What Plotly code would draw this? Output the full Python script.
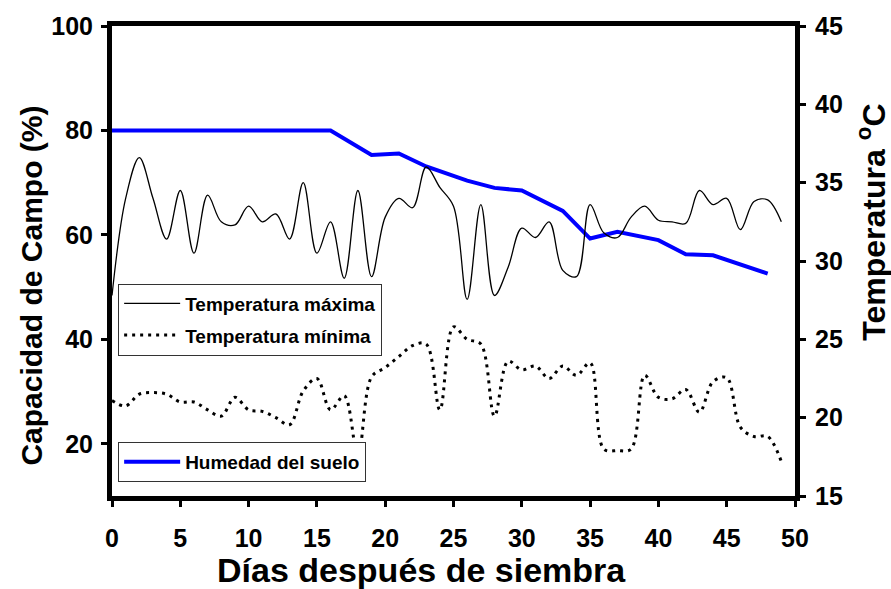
import plotly.graph_objects as go

# Soil moisture (% of field capacity)
hum_dias = [0, 16, 19, 21, 23, 26, 28, 30, 33, 35, 37, 40, 42, 44, 48]
humedad = [80, 80, 75.3, 75.6, 73.1, 70.4, 69.0, 68.5, 64.6, 59.3, 60.6, 59.0, 56.3, 56.1, 52.6]

# Daily temperatures (°C)
dias = list(range(0, 50))
t_max = [27.8, 34.0, 36.6, 34.0, 31.4, 34.5, 30.5, 34.2, 32.5, 32.3,
         33.5, 32.5, 33.0, 31.4, 35.0, 30.5, 32.5, 28.9, 34.5, 29.0,
         32.8, 34.0, 33.4, 36.0, 34.7, 33.5, 27.55, 33.6, 27.8, 29.6,
         32.1, 31.5, 32.5, 29.4, 29.0, 33.6, 31.8, 31.5, 32.8, 33.5,
         32.6, 32.5, 32.4, 34.5, 33.6, 34.0, 32.0, 33.8, 33.9, 32.5]
t_min = [21.1, 20.75, 21.5, 21.6, 21.5, 21.0, 21.0, 20.5, 20.1, 21.3,
         20.5, 20.4, 20.0, 19.55, 21.7, 22.5, 20.5, 21.4, 17.6, 22.6,
         23.2, 23.9, 24.6, 24.7, 20.5, 25.8, 25.0, 24.7, 20.1, 23.6,
         23.05, 23.3, 22.5, 23.3, 22.7, 23.5, 18.0, 17.9, 18.0, 22.7,
         21.3, 21.2, 21.8, 20.35, 22.3, 22.55, 19.4, 18.8, 18.8, 17.2]

FONT = "Liberation Sans"

fig = go.Figure()

fig.add_trace(go.Scatter(
    x=dias, y=t_max, yaxis="y2", mode="lines",
    line=dict(color="black", width=1.3, shape="spline", smoothing=1.0),
    name="Temperatura máxima", legend="legend", legendgroup="a",
))
fig.add_trace(go.Scatter(
    x=dias, y=t_min, yaxis="y2", mode="lines",
    line=dict(color="black", width=3, shape="spline", smoothing=1.0, dash="3px,5px"),
    name="Temperatura mínima", legend="legend", legendgroup="b",
))
fig.add_trace(go.Scatter(
    x=hum_dias, y=humedad, mode="lines",
    line=dict(color="#0000FF", width=4),
    name="Humedad del suelo", legend="legend2",
))

tickfont = dict(family=FONT, size=25, color="black", weight="bold")
legfont = dict(family=FONT, size=19, color="black", weight="bold")


def title_font(size):
    return dict(family=FONT, size=size, color="black", weight="bold")


axis_common = dict(
    showline=True, linewidth=5, linecolor="black",
    ticks="outside", ticklen=6, tickwidth=3, tickcolor="black",
    showgrid=False, zeroline=False, tickfont=tickfont,
)

fig.update_layout(
    width=891, height=589,
    margin=dict(l=112, r=96, t=18, b=93),
    paper_bgcolor="white", plot_bgcolor="white",
    showlegend=True,
    xaxis=dict(
        range=[0, 50], tickvals=[0, 5, 10, 15, 20, 25, 30, 35, 40, 45, 50],
        mirror=True, ticklabelstandoff=10, **axis_common,
    ),
    yaxis=dict(
        range=[10, 100], tickvals=[20, 40, 60, 80, 100],
        ticklabelstandoff=3, **axis_common,
    ),
    yaxis2=dict(
        range=[15, 45], tickvals=[15, 20, 25, 30, 35, 40, 45],
        overlaying="y", side="right", ticklabelstandoff=4,
        **axis_common,
    ),
    legend=dict(
        x=0.009, y=0.452, xanchor="left", yanchor="top",
        bgcolor="white", bordercolor="#333", borderwidth=1,
        font=legfont, traceorder="grouped", tracegroupgap=4, itemwidth=56,
    ),
    legend2=dict(
        x=0.009, y=0.115, xanchor="left", yanchor="top",
        bgcolor="white", bordercolor="#333", borderwidth=1,
        font=legfont, itemwidth=56,
    ),
    annotations=[
        dict(text="Días después de siembra", xref="paper", yref="paper",
             x=(421 - 112) / 683, y=-(571 - 496) / 478, xanchor="center", yanchor="middle",
             showarrow=False, font=title_font(34)),
        dict(text="Capacidad de Campo (%)", xref="paper", yref="paper",
             x=-(112 - 32) / 683, y=(496 - 282) / 478, xanchor="center", yanchor="middle",
             textangle=-90, showarrow=False, font=title_font(30)),
        dict(text="Temperatura <sup>o</sup>C", xref="paper", yref="paper",
             x=1 + (871 - 795) / 683, y=(496 - 217) / 478, xanchor="center", yanchor="middle",
             textangle=-90, showarrow=False, font=title_font(32)),
    ],
)

fig.write_html("out.html")
